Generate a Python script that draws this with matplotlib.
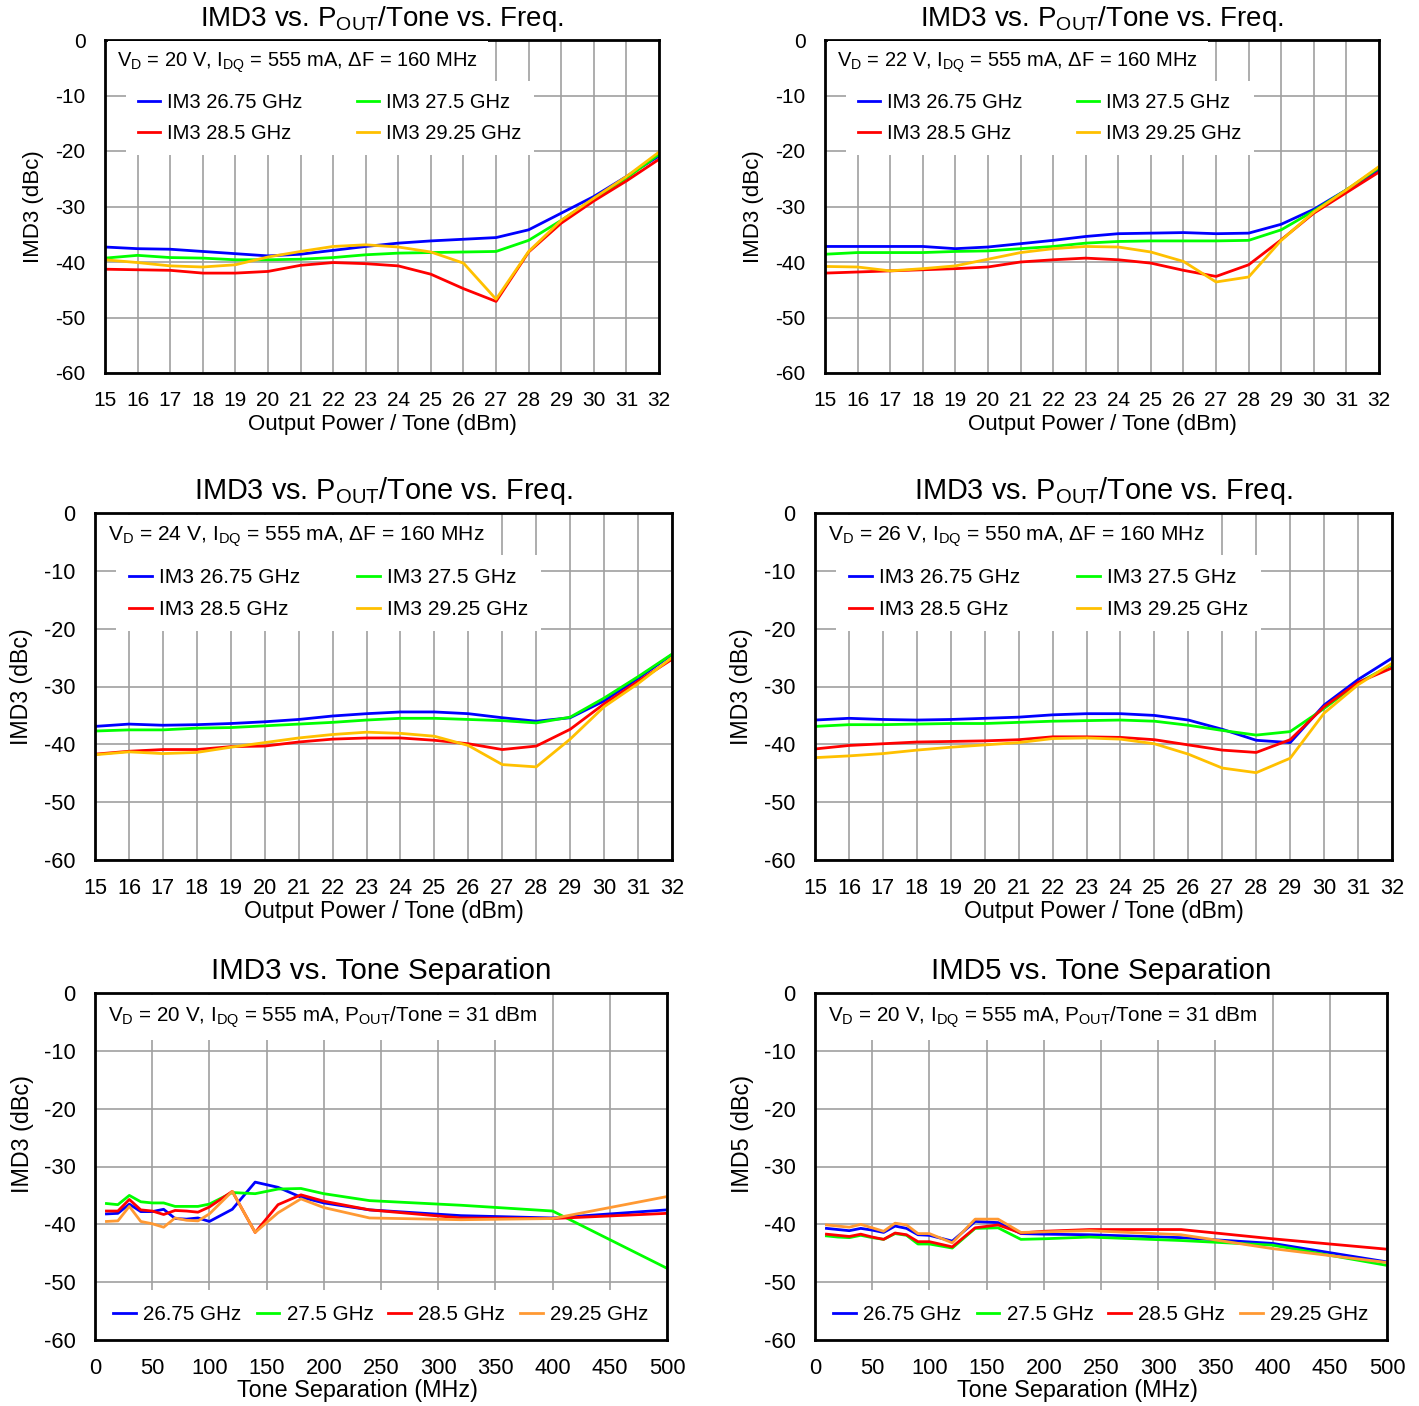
import matplotlib
matplotlib.use("Agg")
import matplotlib.pyplot as plt
import numpy as np

plt.rcParams['font.family'] = ['Liberation Sans', 'DejaVu Sans']
plt.rcParams['mathtext.fontset'] = 'custom'
plt.rcParams['mathtext.rm'] = 'Liberation Sans'
plt.rcParams['mathtext.it'] = 'Liberation Sans'
plt.rcParams['axes.unicode_minus'] = False

# ---- data: IMD3 vs Pout/Tone ----
pout = list(range(15, 33))

vd20_b = [-37.3, -37.6, -37.7, -38.1, -38.5, -38.9, -38.6, -37.9, -37.2, -36.6, -36.2, -35.9, -35.6, -34.2, -31.2, -28.2, -24.6, -20.9]
vd20_g = [-39.3, -38.8, -39.2, -39.3, -39.6, -39.6, -39.5, -39.2, -38.7, -38.4, -38.3, -38.2, -38.1, -36.1, -32.5, -28.6, -24.9, -20.6]
vd20_r = [-41.3, -41.4, -41.5, -42.0, -42.0, -41.7, -40.6, -40.1, -40.3, -40.7, -42.2, -44.8, -47.1, -38.2, -33.0, -29.0, -25.4, -21.5]
vd20_y = [-39.6, -40.1, -40.7, -40.9, -40.5, -39.1, -38.1, -37.2, -36.9, -37.3, -38.2, -40.2, -46.7, -38.1, -32.5, -28.5, -24.6, -20.2]

vd22_b = [-37.2, -37.2, -37.2, -37.2, -37.6, -37.3, -36.7, -36.1, -35.4, -34.9, -34.8, -34.7, -34.9, -34.8, -33.2, -30.5, -27.0, -23.5]
vd22_g = [-38.6, -38.3, -38.3, -38.3, -38.1, -38.0, -37.6, -37.2, -36.6, -36.3, -36.2, -36.2, -36.2, -36.1, -34.2, -30.8, -27.0, -23.0]
vd22_r = [-42.0, -41.8, -41.6, -41.4, -41.2, -40.9, -40.0, -39.6, -39.3, -39.6, -40.2, -41.5, -42.6, -40.5, -36.0, -31.2, -27.5, -23.8]
vd22_y = [-40.8, -40.9, -41.6, -41.2, -40.7, -39.5, -38.3, -37.6, -37.2, -37.3, -38.2, -39.9, -43.6, -42.7, -36.1, -31.0, -27.0, -22.8]

vd24_b = [-36.9, -36.5, -36.7, -36.6, -36.4, -36.1, -35.7, -35.1, -34.7, -34.4, -34.4, -34.7, -35.4, -36.0, -35.4, -32.5, -28.6, -24.5]
vd24_g = [-37.7, -37.5, -37.5, -37.2, -37.1, -36.8, -36.5, -36.2, -35.8, -35.5, -35.5, -35.7, -35.9, -36.3, -35.3, -32.0, -28.3, -24.4]
vd24_r = [-41.7, -41.2, -40.9, -40.9, -40.4, -40.3, -39.6, -39.1, -38.9, -38.9, -39.3, -39.9, -40.9, -40.3, -37.4, -33.0, -29.1, -25.3]
vd24_y = [-41.8, -41.3, -41.6, -41.4, -40.5, -39.7, -38.9, -38.3, -37.9, -38.1, -38.6, -40.2, -43.5, -43.9, -39.1, -33.5, -29.5, -25.0]

vd26_b = [-35.8, -35.5, -35.7, -35.8, -35.7, -35.5, -35.3, -34.9, -34.7, -34.7, -35.0, -35.8, -37.4, -39.3, -39.7, -33.2, -28.8, -25.1]
vd26_g = [-36.9, -36.6, -36.6, -36.5, -36.4, -36.4, -36.2, -36.0, -35.9, -35.8, -36.0, -36.7, -37.6, -38.4, -37.8, -33.8, -29.4, -26.2]
vd26_r = [-40.8, -40.2, -39.9, -39.6, -39.5, -39.4, -39.2, -38.7, -38.7, -38.8, -39.2, -40.1, -41.0, -41.4, -39.2, -33.5, -29.3, -26.8]
vd26_y = [-42.3, -42.0, -41.6, -41.0, -40.5, -40.1, -39.7, -39.0, -38.9, -39.1, -39.9, -41.7, -44.1, -44.9, -42.4, -34.6, -29.7, -26.0]

# ---- data: vs tone separation ----
sep = [10, 20, 30, 40, 50, 60, 70, 80, 90, 100, 120, 140, 160, 180, 200, 240, 320, 400, 500]

im3_b = [-38.2, -38.1, -36.5, -37.8, -37.8, -37.4, -39.0, -39.1, -38.9, -39.5, -37.4, -32.7, -33.6, -35.3, -36.3, -37.5, -38.5, -38.9, -37.5]
im3_g = [-36.4, -36.6, -35.0, -36.1, -36.3, -36.3, -36.9, -36.9, -36.9, -36.5, -34.5, -34.7, -33.9, -33.8, -34.7, -35.9, -36.7, -37.7, -47.6]
im3_r = [-37.7, -37.7, -35.7, -37.5, -37.7, -38.3, -37.6, -37.7, -37.9, -37.0, -34.3, -41.4, -36.6, -34.9, -36.0, -37.5, -38.9, -39.0, -38.1]
im3_o = [-39.5, -39.4, -36.9, -39.5, -39.9, -40.5, -38.9, -39.3, -39.4, -38.2, -34.3, -41.4, -38.0, -35.6, -37.1, -38.9, -39.2, -39.0, -35.2]

im5_b = [-40.7, -40.9, -41.1, -40.7, -41.0, -41.4, -40.3, -40.7, -41.8, -41.9, -42.9, -39.5, -39.7, -41.6, -41.7, -41.8, -42.3, -43.3, -46.5]
im5_g = [-42.0, -42.2, -42.3, -41.9, -42.3, -42.6, -41.6, -41.9, -43.4, -43.4, -44.1, -40.7, -40.6, -42.6, -42.5, -42.2, -42.8, -43.6, -47.1]
im5_r = [-41.7, -41.9, -42.1, -41.7, -42.2, -42.6, -41.5, -41.8, -43.0, -43.0, -43.9, -40.6, -40.1, -41.5, -41.2, -40.9, -40.9, -42.5, -44.3]
im5_o = [-40.1, -40.3, -40.5, -40.0, -40.6, -41.2, -39.8, -40.1, -41.6, -41.6, -43.2, -39.1, -39.1, -41.4, -41.3, -41.1, -41.8, -44.2, -46.6]

freq_labels = ['IM3 26.75 GHz', 'IM3 28.5 GHz', 'IM3 27.5 GHz', 'IM3 29.25 GHz']
sep_labels = ['26.75 GHz', '27.5 GHz', '28.5 GHz', '29.25 GHz']

BLUE, GREEN, RED, YEL, ORG = '#0000FF', '#00FF00', '#FF0000', '#FFC000', '#FF9933'

W, H = 1419, 1406
fig = plt.figure(figsize=(W / 100, H / 100), dpi=100)


def make_ax(l, r, t, b, s):
    ax = fig.add_axes([l / W, 1 - b / H, (r - l) / W, (b - t) / H])
    ax.set_ylim(-60, 0)
    ax.set_yticks(range(-60, 1, 10))
    ax.grid(True, color='#A0A0A0', lw=1.2)
    ax.set_axisbelow(True)
    for sp in ax.spines.values():
        sp.set_linewidth(2)
    ax.tick_params(length=0, labelsize=15 * s, pad=13)
    ax.tick_params(axis='y', pad=14)
    return ax


def annot(ax, txt, y, fs):
    ax.text(0.022, y, txt, transform=ax.transAxes, fontsize=fs, va='center', ha='left',
            bbox=dict(fc='white', ec='none', pad=7), zorder=5)


def white_legend(leg, z=5):
    leg.get_frame().set_edgecolor('none')
    leg.get_frame().set_facecolor('white')
    leg.get_frame().set_alpha(1)
    leg.set_zorder(z)


def pout_panel(l, r, t, b, note, b_, g_, r_, y_, s=1.0):
    ax = make_ax(l, r, t, b, s)
    ax.set_xlim(15, 32)
    ax.set_xticks(pout)
    hb, = ax.plot(pout, b_, color=BLUE, lw=2)
    hg, = ax.plot(pout, g_, color=GREEN, lw=2)
    hr, = ax.plot(pout, r_, color=RED, lw=2)
    hy, = ax.plot(pout, y_, color=YEL, lw=2)
    ax.set_title('IMD3 vs. P$_{\\rm OUT}$/Tone vs. Freq.', fontsize=20 * s, pad=10)
    ax.set_xlabel('Output Power / Tone (dBm)', fontsize=16 * s, labelpad=3 if s == 1.0 else 1)
    ax.set_ylabel('IMD3 (dBc)', fontsize=16 * s, labelpad=8)
    annot(ax, note, 0.932, 14.5 * s)
    x0 = 21 / (r - l)
    leg = ax.legend([hb, hr, hg, hy], freq_labels, ncol=2, loc='upper left',
                    bbox_to_anchor=(x0, 0.878), fontsize=14.5 * s, frameon=True, fancybox=False,
                    handlelength=1.1, handletextpad=0.35, columnspacing=2.7,
                    labelspacing=0.62, borderpad=0.6, borderaxespad=0)
    white_legend(leg)
    return ax


def sep_panel(l, r, t, b, title, ylab, b_, g_, r_, o_, s=1.05):
    ax = make_ax(l, r, t, b, s)
    ax.set_xlim(0, 500)
    ax.set_xticks(range(0, 501, 50))
    hb, = ax.plot(sep, b_, color=BLUE, lw=2)
    hg, = ax.plot(sep, g_, color=GREEN, lw=2)
    hr, = ax.plot(sep, r_, color=RED, lw=2)
    ho, = ax.plot(sep, o_, color=ORG, lw=2)
    ax.set_title(title, fontsize=21.3, pad=10)
    ax.set_xlabel('Tone Separation (MHz)', fontsize=16 * s)
    ax.set_ylabel(ylab, fontsize=16 * s)
    # the source figure has these axis titles slightly off-centre
    ax.xaxis.set_label_coords(0.459, -0.113)
    ax.yaxis.set_label_coords(-0.107, 0.594)
    annot(ax, 'V$_{\\rm D}$ = 20 V, I$_{\\rm DQ}$ = 555 mA, P$_{\\rm OUT}$/Tone = 31 dBm', 0.93, 14.9)
    leg = ax.legend([hb, hg, hr, ho], sep_labels, ncol=4, loc='lower center',
                    bbox_to_anchor=(0.5, 0.0), fontsize=14.9, frameon=True, fancybox=False,
                    handlelength=1.1, handletextpad=0.35, columnspacing=0.72,
                    borderpad=0.75, borderaxespad=0)
    # keep the white legend box under the axes frame
    white_legend(leg, z=2.4)
    return ax


pout_panel(105, 659, 40, 373, 'V$_{\\rm D}$ = 20 V, I$_{\\rm DQ}$ = 555 mA, \u0394F = 160 MHz',
           vd20_b, vd20_g, vd20_r, vd20_y)
pout_panel(825, 1379, 40, 373, 'V$_{\\rm D}$ = 22 V, I$_{\\rm DQ}$ = 555 mA, \u0394F = 160 MHz',
           vd22_b, vd22_g, vd22_r, vd22_y)
pout_panel(95, 672, 513, 860, 'V$_{\\rm D}$ = 24 V, I$_{\\rm DQ}$ = 555 mA, \u0394F = 160 MHz',
           vd24_b, vd24_g, vd24_r, vd24_y, s=1.04)
pout_panel(815, 1392, 513, 860, 'V$_{\\rm D}$ = 26 V, I$_{\\rm DQ}$ = 550 mA, \u0394F = 160 MHz',
           vd26_b, vd26_g, vd26_r, vd26_y, s=1.04)
sep_panel(95, 667, 993, 1340, 'IMD3 vs. Tone Separation', 'IMD3 (dBc)', im3_b, im3_g, im3_r, im3_o)
sep_panel(815, 1387, 993, 1340, 'IMD5 vs. Tone Separation', 'IMD5 (dBc)', im5_b, im5_g, im5_r, im5_o)

fig.savefig('out.png', dpi=100)
